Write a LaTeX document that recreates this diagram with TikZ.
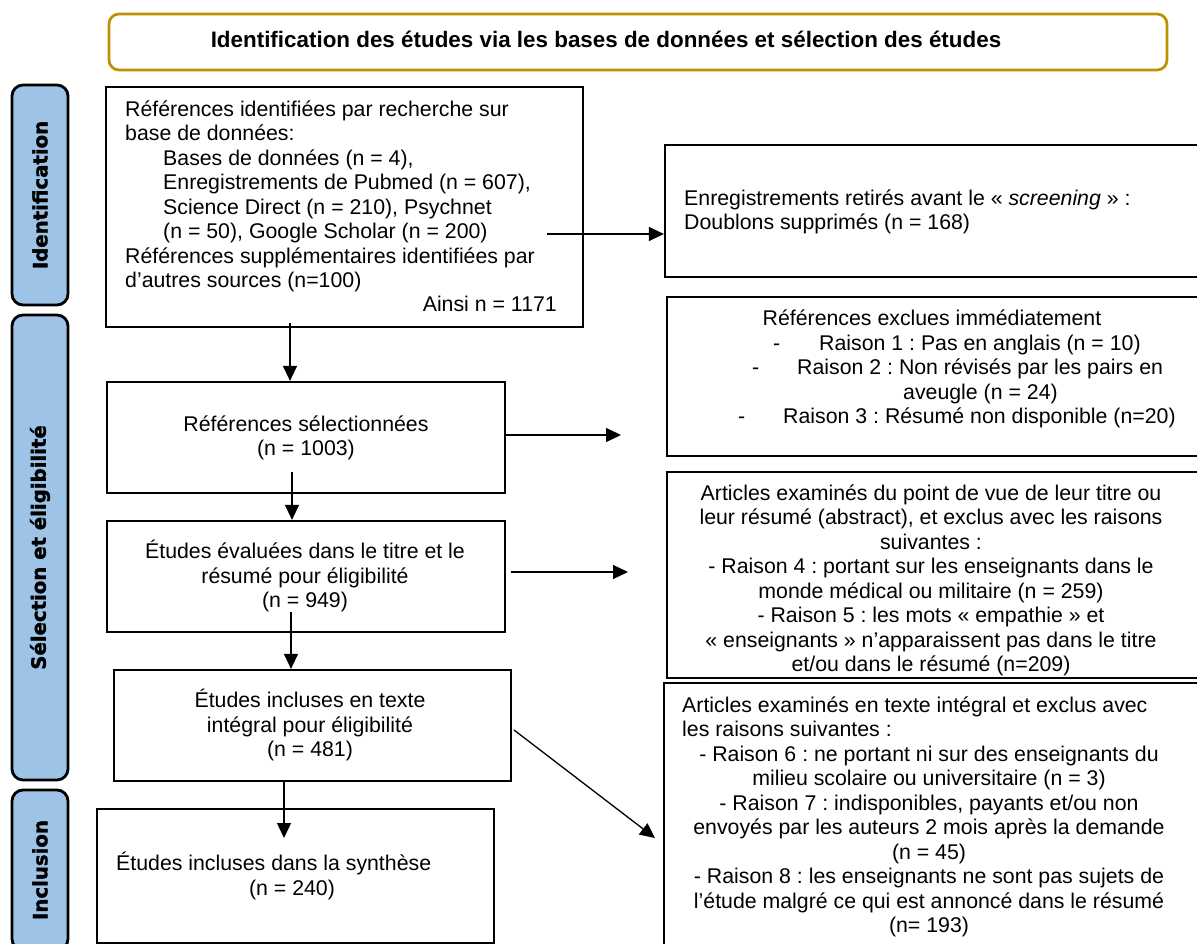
\documentclass[tikz,border=0pt]{standalone}
\usepackage{fontspec}
\setmainfont{Liberation Sans}
\newfontfamily\barfont{DejaVuSans-Bold}[Extension=.ttf, FakeBold=1.6]
\frenchspacing
\usetikzlibrary{arrows.meta}
\definecolor{gold}{RGB}{191,144,0}
\definecolor{barblue}{RGB}{157,195,230}
\begin{document}
\begin{tikzpicture}[x=1pt,y=-1pt,
  box/.style={draw=black, line width=2.2pt, inner sep=0, rectangle},
  bar/.style={draw=black, fill=barblue, line width=2.8pt, rounded corners=11pt, inner sep=0,
    font=\barfont\fontsize{19.7}{22}\selectfont},
  txt/.style={inner sep=0, font=\fontsize{21.3}{24.5}\selectfont},
  arr/.style={-{Triangle[length=15pt,width=14pt]}, line width=1.3pt},
]
\useasboundingbox (0,0) rectangle (1197,944);

% header
\node[draw=gold, line width=2.7pt, rounded corners=10pt, minimum width=1058pt, minimum height=56pt, inner sep=0] (head) at (638,42) {};
\node[inner sep=0, anchor=base, font=\bfseries\fontsize{22.4}{26}\selectfont] (headtxt) at (606,48)
  {Identification des études via les bases de données et sélection des études};

% side bars
\node[bar, rotate=90, minimum width=220pt, minimum height=56pt] (idbar) at (40,195) {Identification};
\node[bar, rotate=90, minimum width=465pt, minimum height=56pt] (selbar) at (40,547.5) {Sélection et éligibilité};
\node[bar, rotate=90, minimum width=160pt, minimum height=56pt] (incbar) at (40,870) {Inclusion};

% boxes
\node[box, minimum width=477pt, minimum height=240pt] (b1) at (344.5,207) {};
\node[box, minimum width=550pt, minimum height=132pt] (b2) at (940,211) {};
\node[box, minimum width=548pt, minimum height=159pt] (b3) at (941,376.5) {};
\node[box, minimum width=548pt, minimum height=206pt] (b4) at (941,575) {};
\node[box, minimum width=551pt, minimum height=277pt] (b5) at (939.5,821.5) {};
\node[box, minimum width=398pt, minimum height=111pt] (sel) at (306,437.5) {};
\node[box, minimum width=398pt, minimum height=111pt] (eval) at (306,576.5) {};
\node[box, minimum width=397pt, minimum height=111pt] (incl) at (312.5,725.5) {};
\node[box, minimum width=397pt, minimum height=134pt] (synth) at (295.5,876) {};

% box 1 text
\node[txt, anchor=north west, align=left] (t1) at (125,98.85)
  {\strut Références identifiées par recherche sur\\
   base de données:\\
   \hspace*{38pt}Bases de données (n = 4),\\
   \hspace*{38pt}Enregistrements de Pubmed (n = 607),\\
   \hspace*{38pt}Science Direct (n = 210), Psychnet\\
   \hspace*{38pt}(n = 50), Google Scholar (n = 200)\\
   Références supplémentaires identifiées par\\
   d’autres sources (n=100)};
\node[txt, anchor=base east] (t1b) at (557,311) {Ainsi n = 1171};

% box 2 text
\node[txt, anchor=north west, align=left] (t2) at (684,187.85)
  {\strut Enregistrements retirés avant le « \textit{screening} » :\\
   Doublons supprimés (n = 168)};

% box 3 text
\node[txt, anchor=base] (t3a) at (932,325) {Références exclues immédiatement};
\node[txt, anchor=base west] (t3d1) at (773,350) {-};
\node[txt, anchor=base west] (t3b) at (819,350) {Raison 1 : Pas en anglais (n = 10)};
\node[txt, anchor=base west] (t3d2) at (752,374.5) {-};
\node[txt, anchor=base west] (t3c) at (797,374.5) {Raison 2 : Non révisés par les pairs en};
\node[txt, anchor=base west] (t3e) at (903,399) {aveugle (n = 24)};
\node[txt, anchor=base west] (t3d3) at (738,423.5) {-};
\node[txt, anchor=base west] (t3f) at (783,423.5) {Raison 3 : Résumé non disponible (n=20)};

% box 4 text
\node[txt, anchor=north, align=center] (t4) at (931,482.85)
  {\strut Articles examinés du point de vue de leur titre ou\\
   leur résumé (abstract), et exclus avec les raisons\\
   suivantes :\\
   - Raison 4 : portant sur les enseignants dans le\\
   monde médical ou militaire (n = 259)\\
   - Raison 5 : les mots « empathie » et\\
   « enseignants » n’apparaissent pas dans le titre\\
   et/ou dans le résumé (n=209)};

% box 5 text
\node[txt, anchor=north west, align=left] (t5a) at (682,694.85)
  {\strut Articles examinés en texte intégral et exclus avec\\
   les raisons suivantes :};
\node[txt, anchor=north, align=center] (t5b) at (929,743.85)
  {\strut - Raison 6 : ne portant ni sur des enseignants du\\
   milieu scolaire ou universitaire (n = 3)\\
   - Raison 7 : indisponibles, payants et/ou non\\
   envoyés par les auteurs 2 mois après la demande\\
   (n = 45)\\
   - Raison 8 : les enseignants ne sont pas sujets de\\
   l’étude malgré ce qui est annoncé dans le résumé\\
   (n= 193)};

% left column texts
\node[txt, anchor=north, align=center] (tsel) at (306,413.85)
  {\strut Références sélectionnées\\(n = 1003)};
\node[txt, anchor=north, align=center] (teval) at (305,539.85)
  {\strut Études évaluées dans le titre et le\\résumé pour éligibilité\\(n = 949)};
\node[txt, anchor=north, align=center] (tincl) at (310,688.85)
  {\strut Études incluses en texte\\intégral pour éligibilité\\(n = 481)};
\node[txt, anchor=base west] (tsyn1) at (116,870) {Études incluses dans la synthèse};
\node[txt, anchor=base] (tsyn2) at (292,895) {(n = 240)};

% connectors
\coordinate (a1s) at (547,234);
\draw[arr] (a1s) -- (a1s -| b2.west);
\coordinate (a2s) at (290,323);
\draw[arr] (a2s) -- (a2s |- sel.north);
\coordinate (a3e) at (621,435);
\draw[arr] (sel.east |- a3e) -- (a3e);
\coordinate (a4s) at (292,472);
\draw[arr] (a4s) -- (a4s |- eval.north);
\coordinate (a5s) at (511,572);
\coordinate (a5e) at (628,572);
\draw[arr] (a5s) -- (a5e);
\coordinate (a6s) at (291,612);
\draw[arr] (a6s) -- (a6s |- incl.north);
\coordinate (a7e) at (284,838);
\draw[arr] (a7e |- incl.south) -- (a7e);
\coordinate (a8s) at (514,730);
\coordinate (a8e) at (655,838);
\draw[arr] (a8s) -- (a8e);
\end{tikzpicture}
\end{document}
